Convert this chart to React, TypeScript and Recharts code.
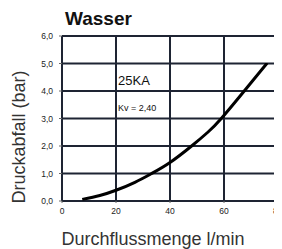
import React from 'react';
import { LineChart, Line, XAxis, YAxis, CartesianGrid } from 'recharts';

// Kennlinie 25KA, Wasser (Kv = 2,40)
const flowRates = [7.5, 14, 20, 27, 33.2, 40, 48, 54, 59, 67.5, 76];
const pressureDrops = [0.06, 0.2, 0.39, 0.68, 1.0, 1.4, 2.0, 2.5, 3.0, 4.0, 5.02];
const xTicks = [0, 20, 40, 60, 80];
const yTicks = [0, 1, 2, 3, 4, 5, 6];

const chartData = flowRates.map((q, i) => ({ q, dp: pressureDrops[i] }));

const font = '"Liberation Sans", Arial, Helvetica, sans-serif';

// title, type label and axis titles, drawn as svg text
const Texts = () => (
  <g fontFamily={font}>
    <text x={65} y={25} fontSize={19} fontWeight="bold" fill="#111">Wasser</text>
    <text x={118} y={84.5} fontSize={13} fill="#111">25KA</text>
    <text x={118} y={111} fontSize={9} fill="#111">Kv = 2,40</text>
    <text
      x={19}
      y={137}
      dy="0.35em"
      fontSize={18}
      fill="#333"
      textAnchor="middle"
      transform="rotate(-90, 19, 137)"
    >
      Druckabfall (bar)
    </text>
    <text x={153} y={245} fontSize={18} fill="#333" textAnchor="middle">Durchflussmenge l/min</text>
  </g>
);

export default function App() {
  return (
    <div style={{ margin: '-8px 0 0 -8px', width: 282, height: 249 }}>
      <LineChart
        width={282}
        height={249}
        data={chartData}
        margin={{ top: 36, right: 4, left: 0, bottom: 18 }}
      >
        <CartesianGrid stroke="#1e2433" strokeWidth={2} />
        <XAxis
          dataKey="q"
          type="number"
          domain={[0, 80]}
          ticks={xTicks}
          height={30}
          axisLine={false}
          tickSize={2}
          tickMargin={5}
          tick={{ fontSize: 8.5, fill: '#222', fontFamily: font }}
        />
        <YAxis
          type="number"
          domain={[0, 6]}
          ticks={yTicks}
          width={62}
          axisLine={false}
          tickSize={3}
          tickMargin={6}
          tickFormatter={(v: number) => v.toFixed(1).replace('.', ',')}
          tick={{ fontSize: 8.5, fill: '#222', fontFamily: font }}
          label={{ content: () => <Texts /> }}
        />
        <Line
          type="natural"
          dataKey="dp"
          stroke="#000"
          strokeWidth={3}
          dot={false}
          isAnimationActive={false}
        />
      </LineChart>
    </div>
  );
}
